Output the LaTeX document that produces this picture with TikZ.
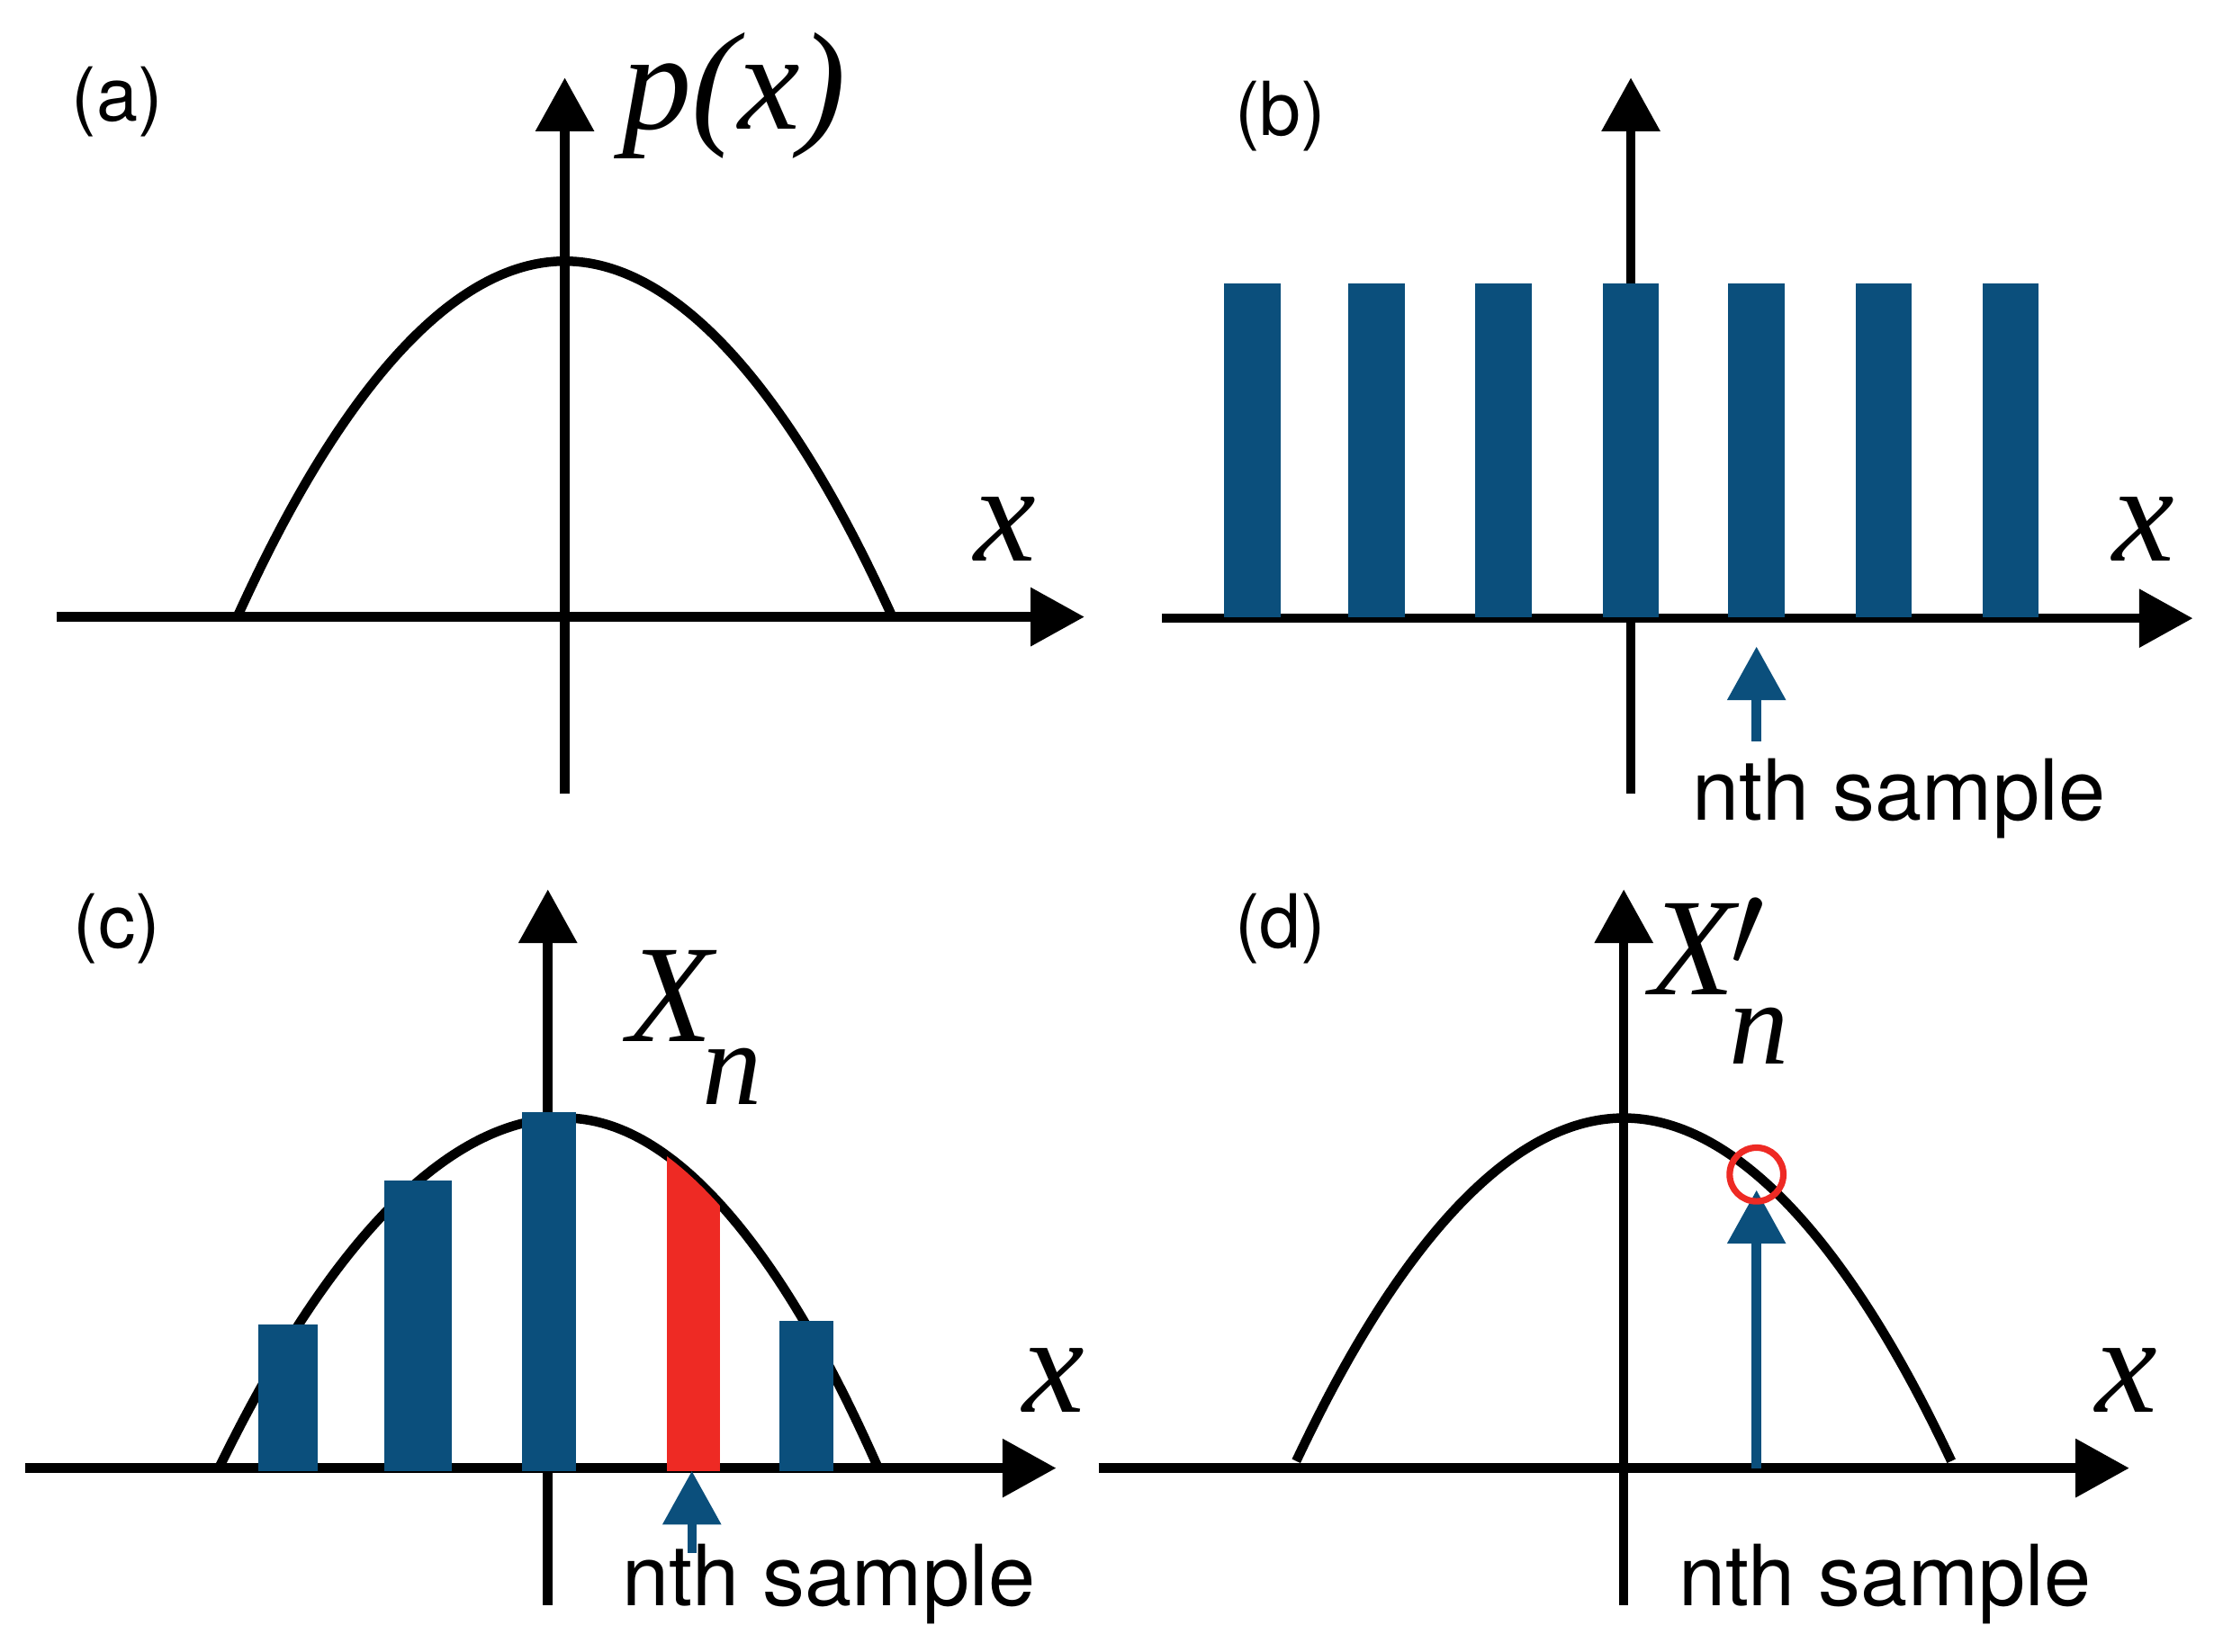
\documentclass[tikz,border=0pt]{standalone}
\usepackage{fontspec}
\setmainfont{TeX Gyre Heros}
\newfontfamily\tms{Liberation Serif}
\usetikzlibrary{arrows.meta}
\definecolor{bblue}{HTML}{0B4F7C}
\definecolor{rred}{HTML}{EE2A24}
\begin{document}
\begin{tikzpicture}[x={(0.01cm,0)},y={(0,-0.01cm)},
  ax/.style={line width=1.9pt,-{Triangle[length=0.38cm,width=0.4cm]}},
  cv/.style={line width=1.9pt},
  barb/.style={fill=bblue},
  barr/.style={fill=rred},
  bar/.style={line width=1.9pt,bblue,-{Triangle[length=0.38cm,width=0.4cm]}},
  lab/.style={font=\fontsize{15}{17}\selectfont},
  smp/.style={font=\fontsize{17}{20}\selectfont},
  mth/.style={font=\fontsize{28}{32}\selectfont\tms\itshape},
  sub/.style={font=\fontsize{24}{28}\selectfont\tms\itshape}]
\useasboundingbox (0,0) rectangle (1568,1170);
% (a)
\draw[cv] (168,437) parabola bend (400,185) (632,437);
\coordinate (a0) at (40,437); \coordinate (a1) at (768,437);
\coordinate (a2) at (400,562); \coordinate (a3) at (400,55);
\draw[ax] (a0) -- (a1);
\draw[ax] (a2) -- (a3);
\node[lab] (la) at (83,72) {(a)};
\node[mth] (px) at (520,68) {p(x)};
\node[mth] (xa) at (712,375) {x};
% (b)
\coordinate (b0) at (823,438); \coordinate (b1) at (1553,438);
\coordinate (b2) at (1155,562); \coordinate (b3) at (1155,55);
\draw[ax] (b0) -- (b1);
\draw[ax] (b2) -- (b3);
\foreach \c in {887,975,1065,1155,1244,1334,1424}
  \fill[barb] (\c-20,201) rectangle (\c+20,437);
\coordinate (bs) at (1244,525); \coordinate (be) at (1244,458);
\draw[bar] (bs) -- (be);
\node[lab] (lb) at (907,82) {(b)};
\node[mth] (xb) at (1518,375) {x};
\node[smp] (sb) at (1345,566) {nth sample};
% (c)
\draw[cv] (155,1040) parabola bend (400,792) (622,1040);
\coordinate (c0) at (18,1040); \coordinate (c1) at (748,1040);
\coordinate (c2) at (388,1137); \coordinate (c3) at (388,630);
\draw[ax] (c0) -- (c1);
\draw[ax] (c2) -- (c3);
\fill[barb] (183,938) rectangle (225,1042);
\fill[barb] (272,836) rectangle (320,1042);
\fill[barb] (370,788) rectangle (408,1042);
\fill[barb] (552,936) rectangle (590,1042);
\begin{scope}
\clip (155,1045) parabola bend (400,792) (622,1045) -- cycle;
\fill[barr] (472,790) rectangle (510,1042);
\end{scope}
\coordinate (cs) at (490,1100); \coordinate (ce) at (490,1042);
\draw[bar] (cs) -- (ce);
\node[lab] (lc) at (83,658) {(c)};
\node[mth] (xn) at (492,728) {X\kern-2pt\raisebox{-0.45em}{\fontsize{24}{28}\selectfont n}};
\node[mth] (xc) at (746,978) {x};
\node[smp] (sc) at (587,1122) {nth sample};
% (d)
\draw[cv] (918,1035) parabola bend (1150,792) (1382,1035);
\coordinate (d0) at (778,1040); \coordinate (d1) at (1508,1040);
\coordinate (d2) at (1150,1137); \coordinate (d3) at (1150,630);
\draw[ax] (d0) -- (d1);
\draw[ax] (d2) -- (d3);
\coordinate (ds) at (1244,1040); \coordinate (de) at (1244,843);
\draw[bar] (ds) -- (de);
\node[draw=rred,line width=1.3pt,circle,minimum size=0.38cm,inner sep=0pt] (rc) at (1244,832) {};
\node[lab] (ld) at (907,658) {(d)};
\node[mth,inner sep=0pt] (xpn) at (1218,695) {X\kern-1pt\raisebox{0.2em}{$\prime$}\kern-7pt\raisebox{-0.5em}{\fontsize{24}{28}\selectfont n}};
\node[mth] (xd) at (1506,978) {x};
\node[smp] (sd) at (1335,1122) {nth sample};
\end{tikzpicture}
\end{document}
